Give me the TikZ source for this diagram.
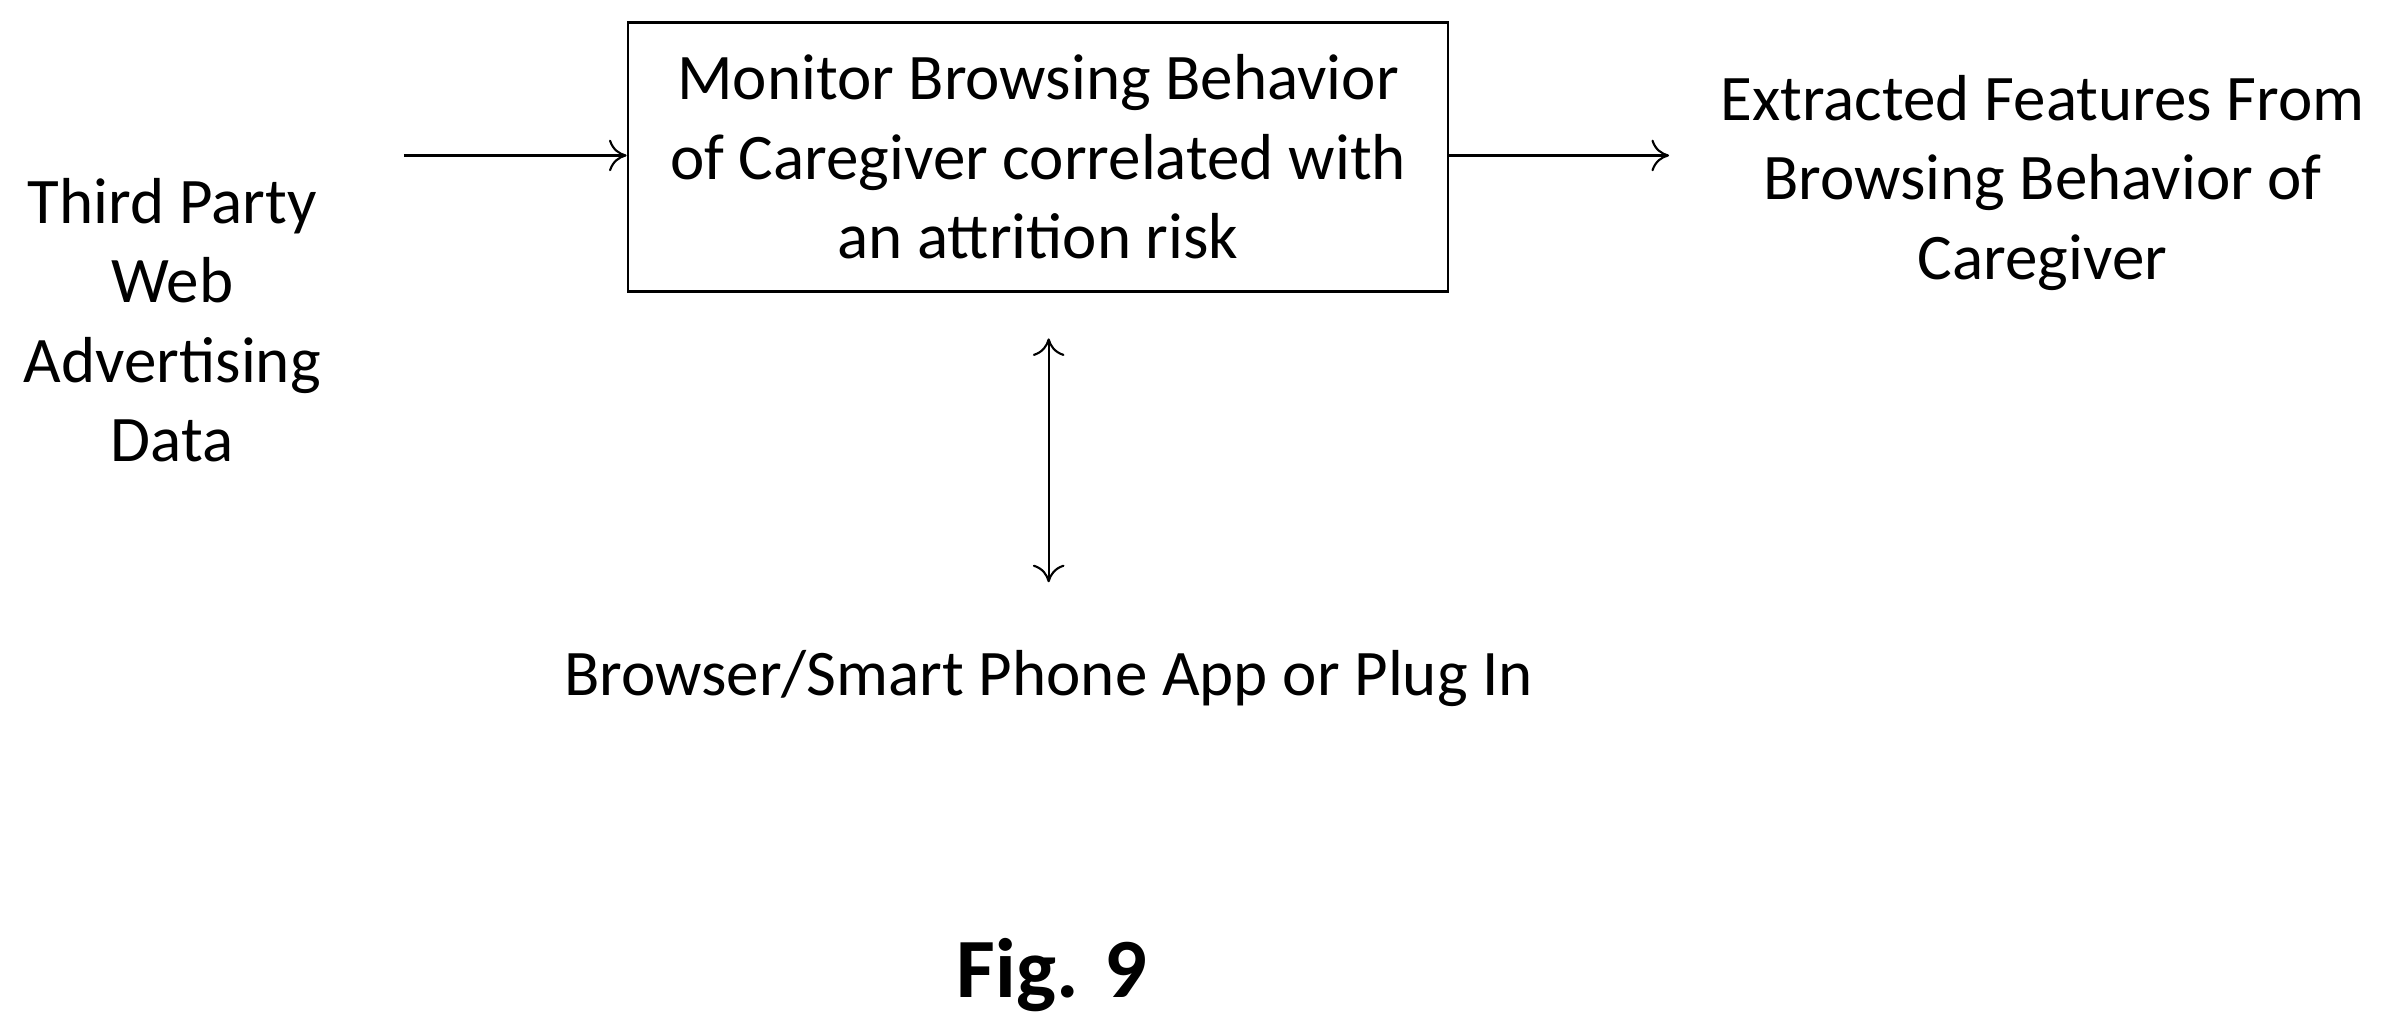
\documentclass[tikz,border=0pt]{standalone}
\usepackage{fontspec}
\setmainfont{Carlito}
\usetikzlibrary{positioning,arrows.meta}
\begin{document}
\begin{tikzpicture}[x=0.01524cm,y=-0.01524cm]
  \tikzset{lbl/.style={align=center, font=\fontsize{18.5}{22.6}\selectfont},
    tip/.tip={To[length=5pt,width=9pt]},
    conn/.style={-tip, line width=0.6pt}}
  \useasboundingbox (0,0) rectangle (1568,678);
  \node[lbl, draw, line width=0.8pt, minimum width=538*0.01524cm,
        inner sep=0pt, minimum height=177*0.01524cm] (monitor) at (681,103)
    {Monitor Browsing Behavior\\of Caregiver correlated with\\an attrition risk};
  \node[lbl] (third) at (113,210) {Third Party\\Web\\Advertising\\Data};
  \node[lbl] (extract) at (1340,120) {Extracted Features From\\Browsing Behavior of\\Caregiver};
  \node[lbl] (app) at (688,445) {Browser/Smart Phone App or Plug In};
  \node[font=\fontsize{24}{28}\selectfont\bfseries] (fig) at (690,640) {Fig. 9};
  \coordinate (in) at (265,102);
  \coordinate (out) at (1095,102);
  \coordinate (top) at (688,222);
  \coordinate (bot) at (688,382);
  \draw[conn] (in) -- (in -| monitor.west);
  \draw[conn] (out -| monitor.east) -- (out);
  \draw[conn, tip-tip] (top) -- (bot);
\end{tikzpicture}
\end{document}
